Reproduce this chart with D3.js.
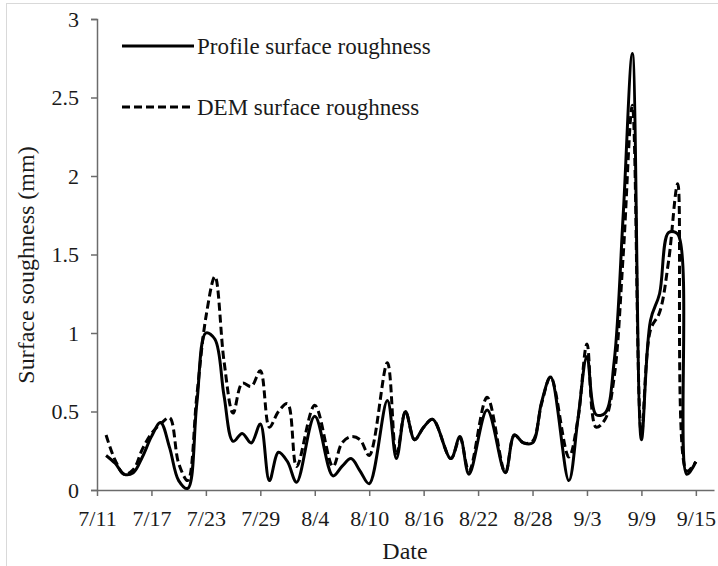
<!DOCTYPE html>
<html>
<head>
<meta charset="utf-8">
<script src="https://cdn.jsdelivr.net/npm/d3@7"></script>
<style>
  html, body { margin: 0; padding: 0; background: #fff; }
  svg { display: block; }
  svg text { font-family: "Liberation Serif", "Tinos", "Times New Roman", "DejaVu Serif", serif !important; fill: #1a1a1a; }
</style>
</head>
<body>
<svg id="chart" width="718" height="566"></svg>
<script>
// ---- data ----
const dates = ["7/12","7/13","7/14","7/15","7/16","7/17","7/18","7/19","7/20","7/21","7/22","7/23","7/24","7/25",
  "7/26","7/27","7/28","7/29","7/30","7/31","8/1","8/2","8/4","8/6","8/7","8/8","8/9","8/10","8/12","8/13",
  "8/14","8/15","8/16","8/17","8/19","8/20","8/21","8/23","8/25","8/26","8/27","8/28","8/29","8/30","9/1",
  "9/2","9/3","9/4","9/5","9/6","9/7","9/8","9/9","9/10","9/11","9/12","9/13","9/14","9/15"];
const profile = [0.22,0.17,0.10,0.11,0.21,0.34,0.43,0.27,0.06,0.01,0.55,1.00,0.96,0.60,
  0.31,0.36,0.30,0.42,0.06,0.24,0.18,0.05,0.47,0.09,0.15,0.20,0.12,0.04,0.57,0.20,
  0.50,0.32,0.40,0.45,0.20,0.34,0.10,0.51,0.11,0.35,0.30,0.30,0.56,0.72,0.06,
  0.45,0.85,0.48,0.49,0.82,1.76,2.78,0.32,1.08,1.25,1.64,1.63,0.10,0.18];
const dem = [0.35,0.19,0.10,0.13,0.26,0.36,0.42,0.46,0.17,0.06,0.60,1.10,1.36,0.82,
  0.49,0.68,0.66,0.76,0.40,0.50,0.55,0.15,0.54,0.15,0.30,0.34,0.32,0.22,0.81,0.22,
  0.50,0.32,0.40,0.45,0.20,0.33,0.12,0.59,0.11,0.35,0.30,0.31,0.55,0.72,0.21,
  0.45,0.93,0.40,0.45,0.72,1.50,2.45,0.36,1.02,1.13,1.46,1.95,0.12,0.18];
const xTickLabels = ["7/11","7/17","7/23","7/29","8/4","8/10","8/16","8/22","8/28","9/3","9/9","9/15"];
const yTicks = [0, 0.5, 1, 1.5, 2, 2.5, 3];
const xDomainLabels = ["7/11", "9/17"];
const seriesNames = ["Profile surface roughness", "DEM surface roughness"];

// ---- helpers ----
const parseMD = s => { const [m, d] = s.split("/").map(Number); return new Date(2013, m - 1, d); };
const FONT = "'Liberation Serif', Tinos, 'Times New Roman', 'DejaVu Serif', serif";

const svg = d3.select("#chart");

// outer border
svg.append("rect").attr("x", 6.5).attr("y", 3.5).attr("width", 740).attr("height", 600)
  .attr("fill", "none").attr("stroke", "#d9d9d9").attr("stroke-width", 1);

const x = d3.scaleTime().domain(xDomainLabels.map(parseMD)).range([97, 714]);
const y = d3.scaleLinear().domain([0, 3]).range([490, 19]);

const axisColor = "#6b6b6b";

// y axis
const yAxis = svg.append("g").attr("transform", "translate(97,0)")
  .call(d3.axisLeft(y).tickValues(yTicks).tickSize(6).tickPadding(12).tickFormat(d => d3.format("")(d)));
yAxis.attr("font-family", FONT);
yAxis.select(".domain").attr("stroke", axisColor).attr("stroke-width", 1.5);
yAxis.selectAll(".tick line").attr("stroke", axisColor).attr("stroke-width", 1.5);
yAxis.selectAll(".tick text").attr("font-size", 22).attr("fill", "#1a1a1a").style("font-family", FONT);

// x axis
const xAxis = svg.append("g").attr("transform", "translate(0,490)")
  .call(d3.axisBottom(x).tickValues(xTickLabels.map(parseMD)).tickSize(6).tickSizeOuter(0).tickPadding(14)
    .tickFormat((d, i) => xTickLabels[i]));
xAxis.attr("font-family", FONT);
xAxis.select(".domain").attr("stroke", axisColor).attr("stroke-width", 1.5);
xAxis.selectAll(".tick line").attr("stroke", axisColor).attr("stroke-width", 1.5);
xAxis.selectAll(".tick text").attr("font-size", 22).attr("fill", "#1a1a1a").style("font-family", FONT);

// axis titles
svg.append("text").attr("x", 405).attr("y", 559).attr("text-anchor", "middle")
  .attr("font-size", 24).style("font-family", FONT).text("Date");
svg.append("text").attr("transform", "translate(34,265) rotate(-90)").attr("text-anchor", "middle")
  .attr("font-size", 24).style("font-family", FONT).text("Surface soughness (mm)");

// lines
const line = d3.line().x(d => x(d.date)).y(d => y(d.v)).curve(d3.curveCatmullRom.alpha(0.5));
const profData = dates.map((s, i) => ({ date: parseMD(s), v: profile[i] }));
const demData = dates.map((s, i) => ({ date: parseMD(s), v: dem[i] }));

svg.append("path").datum(demData).attr("d", line).attr("fill", "none")
  .attr("stroke", "#000").attr("stroke-width", 3).attr("stroke-dasharray", "8,4");
svg.append("path").datum(profData).attr("d", line).attr("fill", "none")
  .attr("stroke", "#000").attr("stroke-width", 3);

// legend
const legend = svg.append("g");
const legY = [46, 107];
legend.append("line").attr("x1", 122).attr("x2", 194).attr("y1", legY[0]).attr("y2", legY[0])
  .attr("stroke", "#000").attr("stroke-width", 3);
legend.append("line").attr("x1", 122).attr("x2", 194).attr("y1", legY[1]).attr("y2", legY[1])
  .attr("stroke", "#000").attr("stroke-width", 3).attr("stroke-dasharray", "8,4");
seriesNames.forEach((n, i) => {
  legend.append("text").attr("x", 197).attr("y", legY[i] + 8).attr("font-size", 23)
    .style("font-family", FONT).text(n);
});
</script>
</body>
</html>
